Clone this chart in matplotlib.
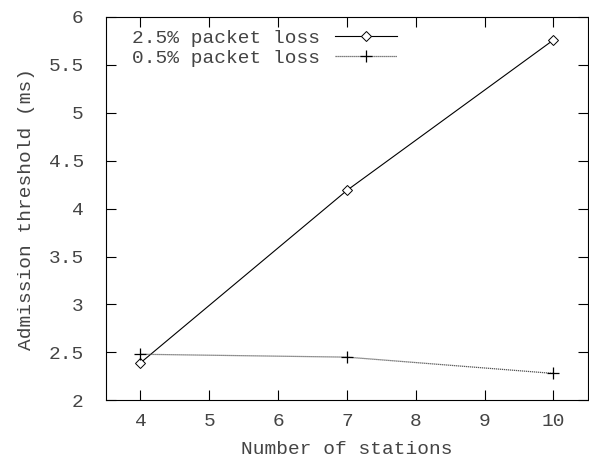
import matplotlib
matplotlib.use("Agg")
import matplotlib.pyplot as plt

# Admission threshold vs number of stations
stations = [4, 7, 10]
loss_25 = [2.39, 4.19, 5.76]
loss_05 = [2.48, 2.45, 2.28]
x_ticks = [4, 5, 6, 7, 8, 9, 10]
y_ticks = [2, 2.5, 3, 3.5, 4, 4.5, 5, 5.5, 6]
y_tick_labels = ["2", "2.5", "3", "3.5", "4", "4.5", "5", "5.5", "6"]

plt.rcParams["font.family"] = "Liberation Mono"
txt = "#444444"
fs = 14

fig = plt.figure(figsize=(5.89, 4.59), dpi=100)
ax = fig.add_axes([0.180, 0.128, 0.818, 0.835])

ax.plot(stations, loss_25, color="black", lw=0.8, marker="D", ms=5,
        mfc="white", mec="black", mew=0.7, label="2.5% packet loss")
ax.plot(stations, loss_05, color="#555555", lw=0.9, ls=(0, (1, 0.6)),
        marker="+", ms=9, mec="black", mew=0.9, label="0.5% packet loss")

ax.set_xlim(3.5, 10.5)
ax.set_ylim(2, 6)
ax.set_xticks(x_ticks)
ax.set_yticks(y_ticks)
ax.set_yticklabels(y_tick_labels)
ax.tick_params(direction="in", length=7, width=0.8, top=True, right=True,
               labelsize=fs, labelcolor=txt)
ax.tick_params(axis="y", pad=16)
ax.tick_params(axis="x", pad=9)
for sp in ax.spines.values():
    sp.set_linewidth(0.8)

ax.set_xlabel("Number of stations", fontsize=fs, color=txt, labelpad=8)
ax.set_ylabel("Admission threshold (ms)", fontsize=fs, color=txt, labelpad=10)

leg = ax.legend(loc="upper right", bbox_to_anchor=(0.604, 0.967),
                frameon=False, markerfirst=False, handlelength=3.2,
                handletextpad=0.75, fontsize=fs, labelspacing=0.1,
                borderaxespad=0, borderpad=0)
for t in leg.get_texts():
    t.set_color(txt)

fig.savefig("out.png", dpi=100)
